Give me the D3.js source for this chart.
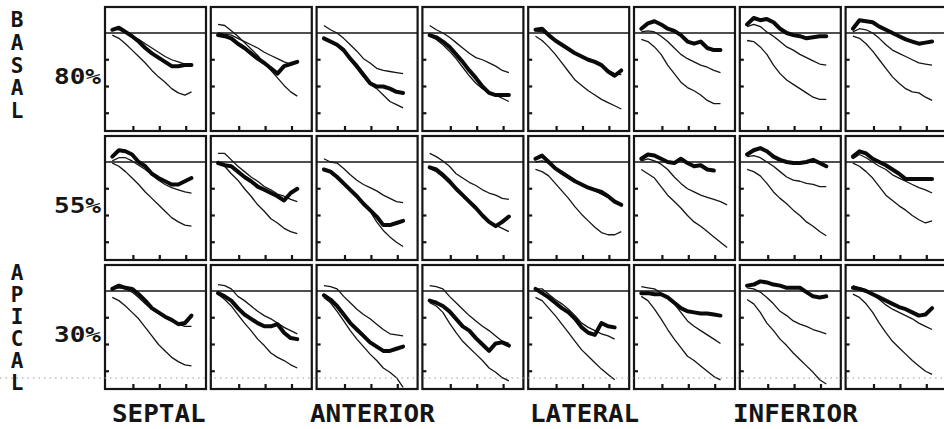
<!DOCTYPE html>
<html><head><meta charset="utf-8">
<script src="https://cdn.jsdelivr.net/npm/d3@7"></script>
<style>html,body{margin:0;padding:0;background:#fff;overflow:hidden}svg{display:block}</style>
</head><body><svg id="c" width="944" height="429"></svg>
<script>
// ---------- data ----------
const TIME = [0.2,0.45,0.7,0.95,1.2,1.45,1.7,1.95,2.2,2.45,2.7,2.95,3.2,3.45];
const X_TICKS = [1,2,3];
const Y_TICKS = [75,50,25];
const REF_LEVEL = 100;
const LEVELS = ["80%","55%","30%"];
const REGIONS = [["B","A","S","A","L"],["A","P","I","C","A","L"]];
const SEGMENTS = ["SEPTAL","ANTERIOR","LATERAL","INFERIOR"];
const N = null;

// basal (80%) row
const basalUpper = [
 [104,103,100,97,94,90,86,82,78,75,73,71,70,N],
 [100,99,98,95,92,89,86,82,79,76,73,71,72,N],
 [107,103,100,95,89,83,76,72,67,65,64,63,62,N],
 [107,103,100,96,91,86,81,77,75,72,69,65,63,N],
 [102,101,98,93,89,85,81,78,75,72,69,65,62,61],
 [101,102,101,97,92,86,80,76,73,70,68,65,63,N],
 [106,108,106,101,97,92,87,84,80,77,74,71,70,N],
 [101,104,103,100,95,89,84,81,78,75,72,71,70,N]];
const basalLower = [
 [98,95,90,84,78,72,65,59,54,48,44,42,45,N],
 [108,107,102,97,91,85,79,72,65,58,51,45,41,N],
 [94,91,88,83,75,67,59,52,48,42,36,33,30,N],
 [97,94,89,83,76,68,60,53,48,45,42,39,36,N],
 [97,93,87,80,72,64,56,51,46,42,38,35,32,29],
 [94,92,87,80,70,62,54,49,46,42,37,34,34,N],
 [93,92,87,80,70,62,56,52,48,44,40,38,38,N],
 [97,95,90,83,75,67,59,53,48,45,44,40,37,N]];
const basalPatient = [
 [103,105,101,97,92,86,81,77,73,69,69,70,70,N],
 [98,97,95,90,86,81,76,72,67,62,69,71,73,N],
 [95,92,89,84,76,69,61,53,50,50,48,45,44,N],
 [98,96,92,87,80,73,65,58,50,44,42,42,42,N],
 [103,104,98,93,89,85,81,78,75,73,70,64,60,65],
 [104,109,111,108,104,102,98,92,90,92,86,84,84,N],
 [108,114,112,113,110,104,100,98,97,95,96,97,97,N],
 [104,112,111,110,106,103,100,97,94,92,90,91,92,N]];

// mid (55%) row
const midUpper = [
 [101,104,104,101,97,93,88,83,79,76,74,72,71,N],
 [108,108,102,96,91,86,82,77,74,70,68,65,63,N],
 [103,100,99,94,88,83,79,76,73,69,66,63,62,N],
 [108,105,101,96,89,85,81,78,74,71,69,66,65,N],
 [100,101,99,94,90,86,82,79,76,73,70,67,63,59],
 [101,103,101,98,93,86,80,75,72,69,67,65,63,60],
 [105,106,104,100,96,91,86,83,82,80,79,77,77,N],
 [103,107,104,100,96,93,88,85,82,79,76,74,71,N]];
const midLower = [
 [99,96,91,85,79,72,66,60,54,48,44,41,40,N],
 [101,96,89,83,75,68,60,54,47,43,38,35,33,N],
 [93,90,85,79,73,67,60,54,44,36,30,25,21,N],
 [94,91,86,80,74,68,62,56,50,45,41,38,35,N],
 [93,91,87,80,73,66,58,51,45,39,34,32,32,35],
 [93,89,85,77,69,63,57,50,44,40,35,30,25,20],
 [93,91,87,80,72,66,61,55,50,44,40,35,31,N],
 [99,96,91,85,77,69,64,59,55,50,46,43,45,N]];
const midPatient = [
 [105,111,110,107,100,96,89,85,82,79,79,82,85,N],
 [99,97,96,91,86,82,77,74,71,68,64,71,75,N],
 [93,91,86,80,74,68,61,55,49,41,41,43,45,N],
 [95,93,88,82,75,69,63,57,50,44,40,44,49,N],
 [103,106,100,94,90,86,82,79,76,74,72,68,63,60],
 [103,107,106,103,100,99,103,99,96,97,93,92,N,N],
 [107,111,113,110,105,102,100,99,99,100,102,99,96,N],
 [105,110,108,103,100,97,93,89,84,84,84,84,84,N]];

// apical (30%) row
const apicalUpper = [
 [102,103,102,99,94,88,83,79,75,72,69,67,67,N],
 [106,105,102,95,91,86,81,77,74,70,66,63,60,N],
 [105,104,102,95,89,83,78,74,69,64,60,59,58,N],
 [105,104,102,95,89,83,77,72,67,63,58,53,51,N],
 [102,102,97,92,88,83,77,70,66,63,60,58,55,N],
 [104,103,102,98,94,88,80,72,67,63,59,55,51,N],
 [103,102,99,94,88,81,77,72,69,67,64,62,60,N],
 [105,103,101,97,92,87,83,80,77,74,70,67,64,N]];
const apicalLower = [
 [94,91,86,80,74,66,58,50,44,38,34,31,30,N],
 [97,92,86,78,70,63,55,49,42,38,35,31,28,N],
 [94,89,81,72,63,55,48,41,35,28,24,19,10,N],
 [89,86,80,70,61,53,47,41,35,28,24,19,16,N],
 [94,91,84,77,69,61,53,45,39,33,27,22,17,N],
 [95,91,83,74,64,55,47,39,35,30,25,20,17,N],
 [92,88,80,70,63,55,49,42,36,30,24,17,13,N],
 [97,94,88,80,70,61,53,47,41,35,30,25,22,N]];
const apicalPatient = [
 [102,105,103,102,97,91,84,80,76,73,69,70,77,N],
 [98,95,91,84,78,74,70,67,67,69,61,56,55,N],
 [96,92,86,78,70,64,58,52,48,44,44,46,48,N],
 [91,89,86,81,74,67,63,56,50,44,51,52,49,N],
 [102,98,94,89,84,80,74,66,61,59,70,67,66,N],
 [98,98,97,97,94,89,84,81,80,79,79,78,77,N],
 [105,106,109,108,106,105,103,103,103,99,95,94,95,N],
 [103,102,100,97,94,91,88,85,83,80,77,78,84,N]];

const ROWS = [
 {upper: basalUpper, lower: basalLower, patient: basalPatient},
 {upper: midUpper, lower: midLower, patient: midPatient},
 {upper: apicalUpper, lower: apicalLower, patient: apicalPatient}];

// ---------- layout ----------
const svg = d3.select("#c");
const INK = "#151515";
const FONT = "'DejaVu Sans Mono', 'Liberation Mono', monospace";
const colScale = d3.scaleLinear().domain([0, 7]).range([105, 105 + 7 * 105.8]);
const rowScale = d3.scaleLinear().domain([0, 2]).range([7, 7 + 2 * 129]);
const PW = 101, PH = 124;

const defs = svg.append("defs");

ROWS.forEach((row, r) => {
  const top = rowScale(r);
  const y = d3.scaleLinear().domain([8.4, 124.3]).range([top + PH, top]);
  for (let c = 0; c < 8; c++) {
    const left = colScale(c);
    const x = d3.scaleLinear().domain([0, 3.75]).range([left + 2, left + PW]);
    const g = svg.append("g");
    const cid = `clip-${r}-${c}`;
    defs.append("clipPath").attr("id", cid).append("rect")
      .attr("x", left).attr("y", top).attr("width", PW).attr("height", PH);

    g.append("rect").attr("x", left).attr("y", top).attr("width", PW).attr("height", PH)
      .attr("fill", "none").attr("stroke", INK).attr("stroke-width", 2.2);
    g.append("line").attr("x1", left).attr("x2", left + PW)
      .attr("y1", y(REF_LEVEL)).attr("y2", y(REF_LEVEL))
      .attr("stroke", INK).attr("stroke-width", 1.6);
    g.selectAll(".yt").data(Y_TICKS).join("line")
      .attr("x1", left).attr("x2", left + 4)
      .attr("y1", d => y(d)).attr("y2", d => y(d))
      .attr("stroke", INK).attr("stroke-width", 2.2);
    g.selectAll(".xt").data(X_TICKS).join("line")
      .attr("x1", d => x(d)).attr("x2", d => x(d))
      .attr("y1", top + PH).attr("y2", top + PH - 5)
      .attr("stroke", INK).attr("stroke-width", 2.2);

    const line = d3.line()
      .defined(d => d[1] !== null)
      .x(d => x(d[0])).y(d => y(d[1]))
      .curve(d3.curveLinear);
    const cg = g.append("g").attr("clip-path", `url(#${cid})`);
    const pts = arr => TIME.map((t, i) => [t, arr[i]]);
    [row.upper[c], row.lower[c]].forEach(arr => {
      cg.append("path").attr("d", line(pts(arr)))
        .attr("fill", "none").attr("stroke", INK).attr("stroke-width", 1.3)
        .attr("stroke-linejoin", "round");
    });
    cg.append("path").attr("d", line(pts(row.patient[c])))
      .attr("fill", "none").attr("stroke", "#0a0a0a").attr("stroke-width", 4)
      .attr("stroke-linejoin", "round").attr("stroke-linecap", "round");
  }
  svg.append("text").text(LEVELS[r])
    .attr("x", 54).attr("y", top + 77)
    .attr("font-family", FONT).attr("font-size", 21).attr("font-weight", "bold").attr("fill", INK)
    .attr("textLength", 47).attr("lengthAdjust", "spacingAndGlyphs");
});

const regionBase = [27, 280];
const regionStep = [22.75, 22];
REGIONS.forEach((letters, k) => {
  svg.selectAll(null).data(letters).join("text")
    .text(d => d)
    .attr("x", 17).attr("y", (d, i) => regionBase[k] + i * regionStep[k])
    .attr("text-anchor", "middle")
    .attr("font-family", FONT).attr("font-size", 21).attr("font-weight", "bold").attr("fill", INK);
});

svg.append("line").attr("x1", 0).attr("x2", 944).attr("y1", 378).attr("y2", 378)
  .attr("stroke", "#9a9a9a").attr("stroke-width", 1).attr("stroke-dasharray", "1.5,4");

const segStart = [112, 310, 530, 733];
SEGMENTS.forEach((s, i) => {
  svg.append("text").text(s)
    .attr("x", segStart[i]).attr("y", 422)
    .attr("font-family", FONT).attr("font-size", 24).attr("font-weight", "bold").attr("fill", INK)
    .attr("textLength", s.length * 15.6).attr("lengthAdjust", "spacingAndGlyphs");
});
</script></body></html>
